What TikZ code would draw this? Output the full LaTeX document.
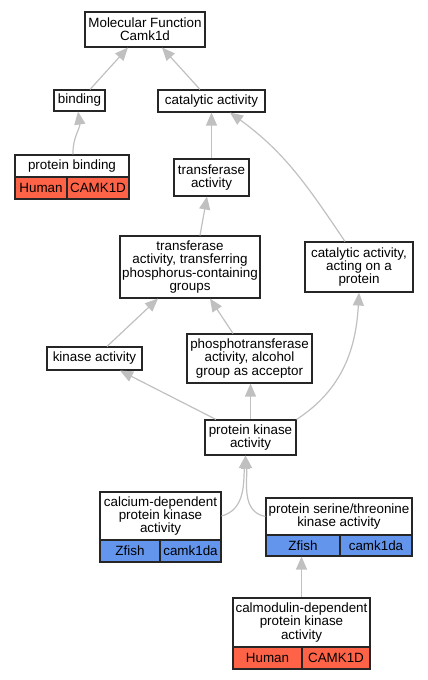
\documentclass[tikz,border=0pt]{standalone}
\usepackage{fontspec}
\setmainfont{Liberation Sans}
\usetikzlibrary{arrows.meta,positioning}
\definecolor{human}{HTML}{FF6347}
\definecolor{zfish}{HTML}{6495ED}
\definecolor{edgegray}{HTML}{C0C0C0}

\begin{document}
\begin{tikzpicture}[x=1pt,y=-1pt,every node/.style={font=\fontsize{13.4}{13.3}\selectfont,align=center,inner sep=0pt},
    term/.style={draw=black!85,line width=1.1pt,fill=white},
    human/.style={term,fill=human,minimum height=22pt},
    zfish/.style={term,fill=zfish,minimum height=22pt},
    isa/.style={draw=edgegray,line width=1.2pt,-{Triangle[length=13pt,width=11pt]}}]
    \useasboundingbox (0,0) rectangle (428,680);
    % terms
    \node[term,minimum width=120pt,minimum height=35pt] (mf) at (145,29.5) {Molecular Function\\Camk1d};
    \node[term,minimum width=51pt,minimum height=21pt] (bind) at (79.5,100.5) {binding};
    \node[term,minimum width=107pt,minimum height=22pt] (cat) at (211.5,101) {catalytic activity};
    \node[term,minimum width=75pt,minimum height=37pt] (trans) at (211.5,177.5) {transferase\\activity};
    \node[term,minimum width=140pt,minimum height=62pt] (tpg) at (190,267) {transferase\\activity, transferring\\phosphorus-containing\\groups};
    \node[term,minimum width=108pt,minimum height=50pt] (catprot) at (359,267) {catalytic activity,\\acting on a\\protein};
    \node[term,minimum width=95pt,minimum height=23pt] (kin) at (94.5,358.5) {kinase activity};
    \node[term,minimum width=125pt,minimum height=49pt] (phos) at (249.5,358.5) {phosphotransferase\\activity, alcohol\\group as acceptor};
    \node[term,minimum width=91pt,minimum height=35pt] (pka) at (250.5,437.5) {protein kinase\\activity};
    % annotated terms
    \node[term,minimum width=114pt,minimum height=22pt] (pbind) at (72,166) {protein binding};
    \node[human,minimum width=52pt] (pbindH) at (41,188) {Human};
    \node[human,minimum width=62pt] (pbindG) at (98,188) {CAMK1D};
    \node[term,minimum width=121pt,minimum height=48pt] (calc) at (160.5,516) {calcium-dependent\\protein kinase\\activity};
    \node[zfish,minimum width=60pt] (calcZ) at (130,551) {Zfish};
    \node[zfish,minimum width=61pt] (calcG) at (190.5,551) {camk1da};
    \node[term,minimum width=146pt,minimum height=37pt] (ser) at (339,516.5) {protein serine/threonine\\kinase activity};
    \node[zfish,minimum width=74pt,minimum height=21pt] (serZ) at (303,545.5) {Zfish};
    \node[zfish,minimum width=72pt,minimum height=21pt] (serG) at (376,545.5) {camk1da};
    \node[term,minimum width=137pt,minimum height=49pt] (calm) at (301.5,622.5) {calmodulin-dependent\\protein kinase\\activity};
    \node[human,minimum width=69pt] (calmH) at (267.5,658) {Human};
    \node[human,minimum width=68pt] (calmG) at (336,658) {CAMK1D};
    % is_a edges
    \draw[isa] ([xshift=10.5pt]bind.north) -- ([xshift=-17pt]mf.south);
    \draw[isa] ([xshift=-11.5pt]cat.north) -- ([xshift=17pt]mf.south);
    \draw[isa] ([xshift=1pt]pbind.north) to[out=92,in=-82] ([xshift=-1.5pt]bind.south);
    \draw[isa] (trans.north) -- (cat.south);
    \draw[isa] ([xshift=10pt]tpg.north) -- ([xshift=-4.5pt]trans.south);
    \draw[isa] ([xshift=-14pt]catprot.north) to[out=124,in=-36] ([xshift=18.5pt]cat.south);
    \draw[isa] ([xshift=12.5pt]kin.north) -- ([xshift=-32pt]tpg.south);
    \draw[isa] ([xshift=-16.5pt]phos.north) -- ([xshift=20pt]tpg.south);
    \draw[isa] ([xshift=-34.5pt]pka.north) -- ([xshift=25.5pt]kin.south);
    \draw[isa] (pka.north) -- (pka.north |- phos.south);
    \draw[isa] (pka.north east) to[out=33,in=-93] (catprot.south);
    \draw[isa] (calc.east) to[out=15,in=-95] ([xshift=-5pt]pka.south);
    \draw[isa] (ser.west) to[out=170,in=-85] ([xshift=-5pt]pka.south);
    \draw[isa] (calm.north) -- (calm.north |- serZ.south);
\end{tikzpicture}
\end{document}
